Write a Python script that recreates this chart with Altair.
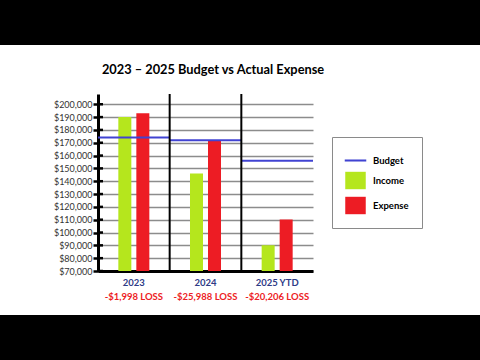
import altair as alt
import pandas as pd

title_text = ["2023 – 2025 Budget vs Actual Expense"]
groups = ["2023", "2024", "2025 YTD"]
income = [190000, 146012, 90000]
expense = [192998, 172000, 110206]
budget = [174000, 172000, 156000]
loss_labels = ["-$1,998 LOSS", "-$25,988 LOSS", "-$20,206 LOSS"]
series_names = ["Budget", "Income", "Expense"]
series_colors = ["#4043d2", "#b5e61d", "#ed1c24"]
y_ticks = list(range(70000, 200001, 10000))
y_domain = [70000, 208000]

W, H = 215, 177
LEFT, TOP = 98, 94
step = W / 3
FONT = "Lato"

rows = []
for g, i, e, b in zip(groups, income, expense, budget):
    rows.append({"group": g, "series": "Income", "value": i})
    rows.append({"group": g, "series": "Expense", "value": e})
    rows.append({"group": g, "series": "Budget", "value": b})
df = pd.DataFrame(rows)
loss_df = pd.DataFrame({"group": groups, "loss": loss_labels})
tick_df = pd.DataFrame({"v": y_ticks})
sep_df = pd.DataFrame({"group": groups[1:]})
title_df = pd.DataFrame({"t": title_text})
one = pd.DataFrame({"a": [0]})

line_path = "M-1.05,-0.1H1.05V0.1H-1.05Z"
sq_path = "M-1,-0.85H1V0.85H-1Z"

x_scale = alt.Scale(domain=groups, paddingInner=0, paddingOuter=0)
y_scale = alt.Scale(domain=y_domain, nice=False, zero=False)
color_scale = alt.Scale(domain=series_names, range=series_colors)
shape_scale = alt.Scale(domain=series_names, range=[line_path, sq_path, sq_path])

legend = alt.Legend(
    title=None, orient="none", legendX=234, legendY=43, direction="vertical",
    symbolSize=420, symbolStrokeWidth=0, symbolOpacity=1, labelFont=FONT, labelFontSize=9.5,
    labelFontWeight="bold", labelColor="black", labelOffset=7, rowPadding=5,
    padding=13, strokeColor="#8a8a8a", fillColor="white",
)

x_axis = alt.Axis(title=None, labelAngle=0, labelColor="#2e3a86", labelFont=FONT,
                  labelFontSize=9.5, labelFontWeight="bold", ticks=False,
                  domainColor="black", domainWidth=3, labelPadding=6, grid=False)
y_axis = alt.Axis(title=None, values=y_ticks, format="$,.0f", labelFont=FONT,
                  labelFontSize=9, labelColor="#333333", tickColor="black",
                  tickWidth=2.5, tickSize=5, labelPadding=1, domainColor="black",
                  domainWidth=3, grid=True, gridColor="#8c8c8c", gridWidth=1.3)

X = lambda: alt.X("group:N", scale=x_scale, axis=x_axis, sort=groups)
Y = lambda f="value:Q": alt.Y(f, scale=y_scale, axis=y_axis)

bands = alt.Chart(one).mark_rect(color="black").encode(
    x=alt.value(-LEFT), x2=alt.value(480 - LEFT), y=alt.value(-TOP), y2=alt.value(45 - TOP)
) + alt.Chart(one).mark_rect(color="black").encode(
    x=alt.value(-LEFT), x2=alt.value(480 - LEFT), y=alt.value(315 - TOP), y2=alt.value(360 - TOP)
)

bars = alt.Chart(df).transform_filter("datum.series != 'Budget'").mark_bar(width=13, clip=True).encode(
    x=X(),
    xOffset=alt.XOffset("series:N", scale=alt.Scale(domain=["Income", "Expense"], paddingInner=0.02, paddingOuter=1)),
    y=Y(),
    color=alt.Color("series:N", scale=color_scale, legend=legend),
)

budget_ticks = alt.Chart(df).transform_filter("datum.series == 'Budget'").mark_tick(
    orient="horizontal", size=step, thickness=2, opacity=1
).encode(
    x=X(),
    y=Y(),
    color=alt.Color("series:N", scale=color_scale, legend=legend),
)

shape_layer = alt.Chart(df).transform_filter("false").mark_point(filled=True, opacity=1).encode(
    x=X(),
    y=Y(),
    color=alt.Color("series:N", scale=color_scale, legend=legend),
    shape=alt.Shape("series:N", scale=shape_scale, legend=legend),
)

seps = alt.Chart(sep_df).mark_rule(color="black", strokeWidth=2).encode(
    x=alt.X("group:N", scale=x_scale, axis=x_axis, sort=groups, bandPosition=0),
)

inner_ticks = alt.Chart(tick_df).mark_rule(color="black", strokeWidth=2.5).encode(
    y=Y("v:Q"), x=alt.value(0), x2=alt.value(5)
)

loss_text = alt.Chart(loss_df).mark_text(
    color="#ed1c24", font=FONT, fontWeight="bold", fontSize=9.5
).encode(
    x=X(),
    y=alt.value(H + 26),
    text="loss:N",
)

title_mark = alt.Chart(title_df).mark_text(
    color="black", font=FONT, fontWeight="bold", fontSize=12.8, baseline="middle", align="center"
).encode(
    x=alt.value(W / 2 + 7.5), y=alt.value(70 - TOP), text="t:N"
)

chart = alt.layer(
    bands, bars, budget_ticks, shape_layer, seps, inner_ticks, loss_text, title_mark
).properties(
    width=W, height=H,
    padding={"left": LEFT, "top": TOP, "right": 480 - LEFT - W, "bottom": 360 - TOP - H},
    autosize=alt.AutoSizeParams(type="none"),
    background="white",
).configure_view(stroke=None)

chart.save("out.html", embed_options={"renderer": "svg", "actions": False})
